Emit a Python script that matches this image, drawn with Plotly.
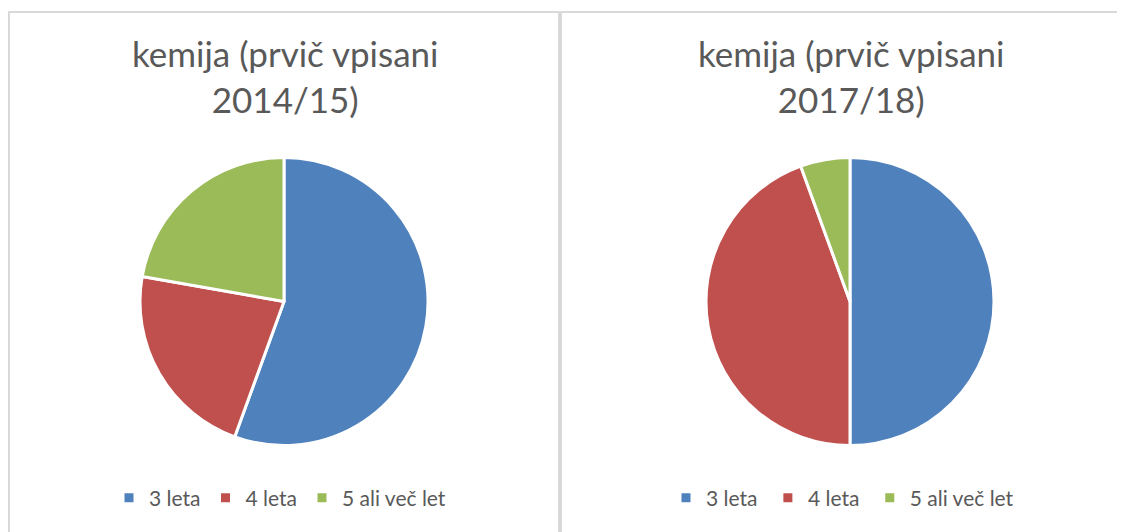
import plotly.graph_objects as go

# share of first-time enrolled students by study duration
labels = ["3 leta", "4 leta", "5 ali več let"]
values_2014 = [25, 10, 10]
values_2017 = [18, 16, 2]
titles = ["kemija (prvič vpisani<br>2014/15)", "kemija (prvič vpisani<br>2017/18)"]
colors = ["#4F81BD", "#C0504D", "#9BBB59"]

W, H = 1125, 532
OFF = 8  # the page body adds an 8px margin, positions below are page pixels
FONT = "Lato"
GREY = "#595959"

def px_x(v):
    return (v - OFF) / W

def px_y(v):
    return 1 - (v - OFF) / H

fig = go.Figure()

# pie positions in page pixels: (centre x, centre y, radius)
pies = [(284, 301.5, 144, values_2014, "legend", ""),
        (850, 301.5, 144, values_2017, "legend2", " ")]
for cx, cy, r, vals, leg, suffix in pies:
    # pie legend entries are shared by label, so the second pie gets its own labels
    fig.add_trace(go.Pie(
        labels=[l + suffix for l in labels],
        values=vals,
        sort=False,
        direction="clockwise",
        rotation=0,
        textinfo="none",
        hoverinfo="label+value+percent",
        marker=dict(colors=colors, line=dict(color="white", width=3)),
        domain=dict(x=[px_x(cx - r), px_x(cx + r)], y=[px_y(cy + r), px_y(cy - r)]),
        legend=leg,
    ))

# titles
for t, cx in zip(titles, [285, 851]):
    fig.add_annotation(
        text=t, x=px_x(cx), y=px_y(76), xref="paper", yref="paper",
        xanchor="center", yanchor="middle", showarrow=False,
        font=dict(family=FONT, size=35, color=GREY),
    )

# chart area borders
border = dict(color="#D9D9D9", width=2)
fig.add_shape(type="rect", xref="paper", yref="paper",
              x0=px_x(9), x1=px_x(559), y0=-0.05, y1=px_y(12), line=border)
fig.add_shape(type="rect", xref="paper", yref="paper",
              x0=px_x(561), x1=1.05, y0=-0.05, y1=px_y(12), line=border)

legend_style = dict(
    orientation="h", xanchor="center", yanchor="middle",
    font=dict(family=FONT, size=21, color=GREY),
    bgcolor="rgba(0,0,0,0)", itemwidth=30, traceorder="normal",
)
fig.update_layout(
    width=W, height=H,
    margin=dict(l=0, r=0, t=0, b=0),
    paper_bgcolor="white",
    plot_bgcolor="white",
    showlegend=True,
    legend=dict(x=px_x(280), y=px_y(498), **legend_style),
    legend2=dict(x=px_x(845), y=px_y(498), **legend_style),
)

fig.write_html("out.html")
